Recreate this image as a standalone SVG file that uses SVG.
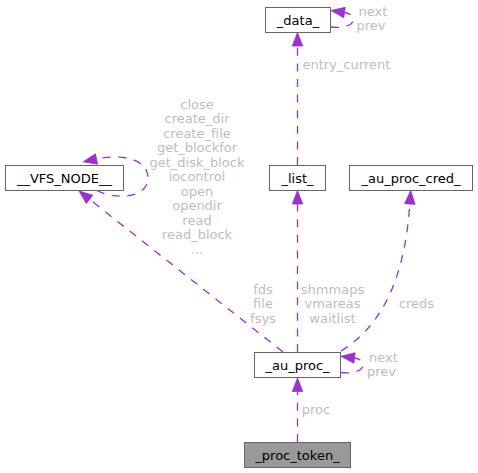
<svg xmlns="http://www.w3.org/2000/svg" width="478" height="473" viewBox="0 0 478 473">
<style>
  .node rect { fill: #ffffff; stroke: #666666; stroke-width: 1; }
  .node.hl rect { fill: #999999; }
  .node text { font-family: "DejaVu Sans", sans-serif; font-size: 13px; fill: #000000; text-anchor: middle; }
  .edge { fill: none; stroke: #9a32cd; stroke-width: 1.3; stroke-dasharray: 8,7.6; }
  .lbl { font-family: "DejaVu Sans", sans-serif; font-size: 13px; fill: #bebebe; text-anchor: middle; }
  .lbl-l { text-anchor: start; }
</style>
<defs>
  <marker id="arr" markerUnits="userSpaceOnUse" markerWidth="14" markerHeight="11" refX="0" refY="5.25" orient="auto" overflow="visible">
    <path d="M0,0 L13.5,5.25 L0,10.5 z" fill="#9a32cd" stroke="#9a32cd" stroke-width="0.8"/>
  </marker>
</defs>
<rect width="478" height="473" fill="#ffffff"/>

<g id="connectors">
  <path class="edge" d="M297.5,165 L297.5,46" marker-end="url(#arr)"/>
  <path class="edge" d="M331,27 C342,28.5 353,26 353,20 C353,15 348,13 344.5,12.5" marker-end="url(#arr)"/>
  <path class="edge" d="M297.5,352 L297.5,204" marker-end="url(#arr)"/>
  <path class="edge" d="M283,352 L89.6,199.4" marker-end="url(#arr)"/>
  <path class="edge" d="M97,190.5 C112,199 148,200 148,178 C148,158 120,154 96.5,159" marker-end="url(#arr)"/>
  <path class="edge" d="M341,351 C375,330 404,290 409.8,204" marker-end="url(#arr)"/>
  <path class="edge" d="M341,372.5 C352,374 363,371 363,365 C363,360.5 358.5,358.5 354.5,358" marker-end="url(#arr)"/>
  <path class="edge" d="M297.5,442 L297.5,391.5" marker-end="url(#arr)"/>

  <text class="lbl lbl-l" x="302.5" y="68.5">entry_current</text>
  <text class="lbl" x="373" y="15.5">next</text>
  <text class="lbl" x="371" y="30">prev</text>
  <text class="lbl" x="197" y="108.5">close</text>
  <text class="lbl" x="197" y="123">create_dir</text>
  <text class="lbl" x="197" y="137.5">create_file</text>
  <text class="lbl" x="197" y="152">get_blockfor</text>
  <text class="lbl" x="197" y="166.5">get_disk_block</text>
  <text class="lbl" x="197" y="181">iocontrol</text>
  <text class="lbl" x="197" y="195.5">open</text>
  <text class="lbl" x="197" y="210">opendir</text>
  <text class="lbl" x="197" y="224.5">read</text>
  <text class="lbl" x="197" y="239">read_block</text>
  <text class="lbl" x="197" y="253.5">...</text>
  <text class="lbl" x="263" y="293.5">fds</text>
  <text class="lbl" x="263" y="308">file</text>
  <text class="lbl" x="263" y="322.5">fsys</text>
  <text class="lbl" x="332.5" y="293.5">shmmaps</text>
  <text class="lbl" x="332.5" y="308">vmareas</text>
  <text class="lbl" x="332.5" y="322.5">waitlist</text>
  <text class="lbl" x="416.5" y="308">creds</text>
  <text class="lbl" x="383.5" y="361.5">next</text>
  <text class="lbl" x="381.5" y="376">prev</text>
  <text class="lbl" x="316" y="414">proc</text>
</g>

<g id="node-data" class="node">
  <rect x="265.5" y="7.5" width="65" height="25"/>
  <text x="298" y="24.5">_data_</text>
</g>
<g id="node-list" class="node">
  <rect x="269.5" y="165.5" width="56" height="25"/>
  <text x="297.5" y="182.5">_list_</text>
</g>
<g id="node-vfs" class="node">
  <rect x="5.5" y="165.5" width="118" height="25"/>
  <text x="64.5" y="182.5">__VFS_NODE__</text>
</g>
<g id="node-cred" class="node">
  <rect x="349.5" y="165.5" width="123" height="25"/>
  <text x="411" y="182.5">_au_proc_cred_</text>
</g>
<g id="node-au-proc" class="node">
  <rect x="254.5" y="352.5" width="86" height="25"/>
  <text x="297.5" y="369.5">_au_proc_</text>
</g>
<g id="node-proc-token" class="node hl">
  <rect x="244.5" y="442.5" width="106" height="25"/>
  <text x="297.5" y="459.5">_proc_token_</text>
</g>
</svg>
